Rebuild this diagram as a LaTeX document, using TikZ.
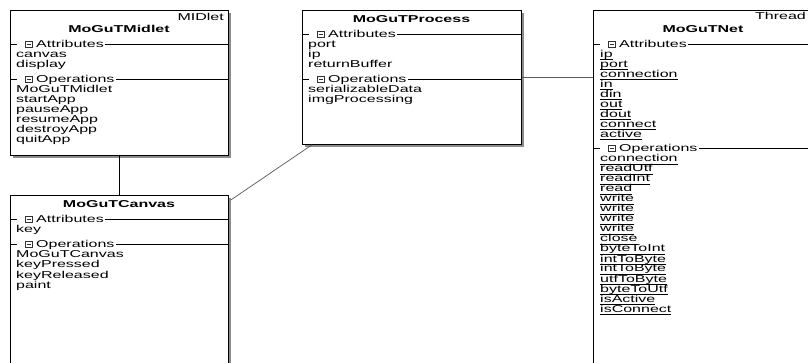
\documentclass[tikz,border=0pt]{standalone}
\usepackage{fontspec}
\usepackage{graphicx}
\setmainfont{Liberation Sans}
\usetikzlibrary{calc,shadows}
\newcommand\sx[1]{\scalebox{1.6}[1]{#1}}
\newsavebox\ulbox
\newcommand\ulx[1]{\sbox\ulbox{\sx{#1}}\rlap{\rule[-2.5pt]{\wd\ulbox}{0.8pt}}\usebox\ulbox}
\newcommand\hdr[5]{% name, box, x0, y, label
  \draw[hline] (#3,#4) -- ++(7,0);
  \draw[icon] ({#3+15},{#4-3}) rectangle ++(7,6);
  \draw[icon] ({#3+16.5},#4) -- ++(4,0);
  \node[txt, anchor=base west] (#1) at ({#3+26},{#4+3.5}) {\sx{#5}};
  \draw[hline] ([xshift=1.5pt]#1.east) -- (#1.east -| #2.east);
}
\begin{document}
\begin{tikzpicture}[x=1pt,y=-1pt,
  txt/.style={inner sep=0pt, font=\fontsize{10}{10}\selectfont, text height=7pt, text depth=0pt},
  ttl/.style={txt, font=\fontsize{10}{10}\selectfont\bfseries, anchor=base},
  row/.style={txt, anchor=base west},
  hline/.style={draw=black, line width=0.8pt},
  icon/.style={draw=black!80, line width=0.6pt},
  cls/.style={draw=black, line width=0.8pt, fill=white, inner sep=0pt, anchor=north west,
    drop shadow={shadow xshift=2.5pt, shadow yshift=-2.5pt, fill=black!45, opacity=1}},
  conn/.style={draw=black!65, line width=0.7pt}]
\useasboundingbox (0,0) rectangle (808,363);
\clip (0,0) rectangle (808,363);
\fill[white] (0,0) rectangle (808,363);

% class boxes
\node[cls, minimum width=218pt, minimum height=145pt] (midlet) at (10,10) {};
\node[cls, minimum width=218pt, minimum height=220pt] (canvas) at (10,195) {};
\node[cls, minimum width=219pt, minimum height=134pt] (process) at (302,10) {};
\node[cls, minimum width=219pt, minimum height=400pt] (net) at (593,10) {};

% MoGuTMidlet
\node[txt, anchor=base east] (midlet-st) at (224,21) {\sx{MIDlet}};
\node[ttl] (midlet-t) at (119,33) {\sx{MoGuTMidlet}};
\hdr{midlet-ha}{midlet}{10}{44}{Attributes}
\foreach \t [count=\i from 0] in {canvas,display}
  \node[row] (midlet-a\i) at (16,{58+10*\i}) {\sx{\t}};
\hdr{midlet-ho}{midlet}{10}{79}{Operations}
\foreach \t [count=\i from 0] in {MoGuTMidlet,startApp,pauseApp,resumeApp,destroyApp,quitApp}
  \node[row] (midlet-o\i) at (16,{93+10*\i}) {\sx{\t}};

% MoGuTProcess
\node[ttl] (process-t) at (411.5,23) {\sx{MoGuTProcess}};
\hdr{process-ha}{process}{302}{34}{Attributes}
\foreach \t [count=\i from 0] in {port,ip,returnBuffer}
  \node[row] (process-a\i) at (308,{48+10*\i}) {\sx{\t}};
\hdr{process-ho}{process}{302}{79}{Operations}
\foreach \t [count=\i from 0] in {serializableData,imgProcessing}
  \node[row] (process-o\i) at (308,{93+10*\i}) {\sx{\t}};

% MoGuTCanvas
\node[ttl] (canvas-t) at (119,208) {\sx{MoGuTCanvas}};
\hdr{canvas-ha}{canvas}{10}{219.5}{Attributes}
\node[row] (canvas-a0) at (16,233) {\sx{key}};
\hdr{canvas-ho}{canvas}{10}{244}{Operations}
\foreach \t [count=\i from 0] in {MoGuTCanvas,keyPressed,keyReleased,paint}
  \node[row] (canvas-o\i) at (16,{258+10*\i}) {\sx{\t}};

% MoGuTNet
\node[txt, anchor=base east] (net-st) at (806,20) {\sx{Thread}};
\node[ttl] (net-t) at (703,33) {\sx{MoGuTNet}};
\hdr{net-ha}{net}{593}{44}{Attributes}
\foreach \t [count=\i from 0] in {ip,port,connection,in,din,out,dout,connect,active}
  \node[row] (net-a\i) at (600,{57.5+10*\i}) {\ulx{\t}};
\hdr{net-ho}{net}{593}{148}{Operations}
\foreach \t [count=\i from 0] in {connection,readUtf,readInt,read,write,write,write,write,close,byteToInt,intToByte,intToByte,utfToByte,byteToUtf,isActive,isConnect}
  \node[row] (net-o\i) at (600,{162+10*\i}) {\ulx{\t}};

% connectors
\coordinate (c1) at ($(canvas.north east)+(2,5)$);
\coordinate (p1) at ($(process.south west)+(10,0)$);
\coordinate (p2) at (process.east |- 0,77);
\draw[line width=0.8pt] (midlet.south) -- (canvas.north);
\draw[conn] (c1) -- (p1);
\draw[conn] (p2) -- (p2 -| net.west);
\end{tikzpicture}
\end{document}
